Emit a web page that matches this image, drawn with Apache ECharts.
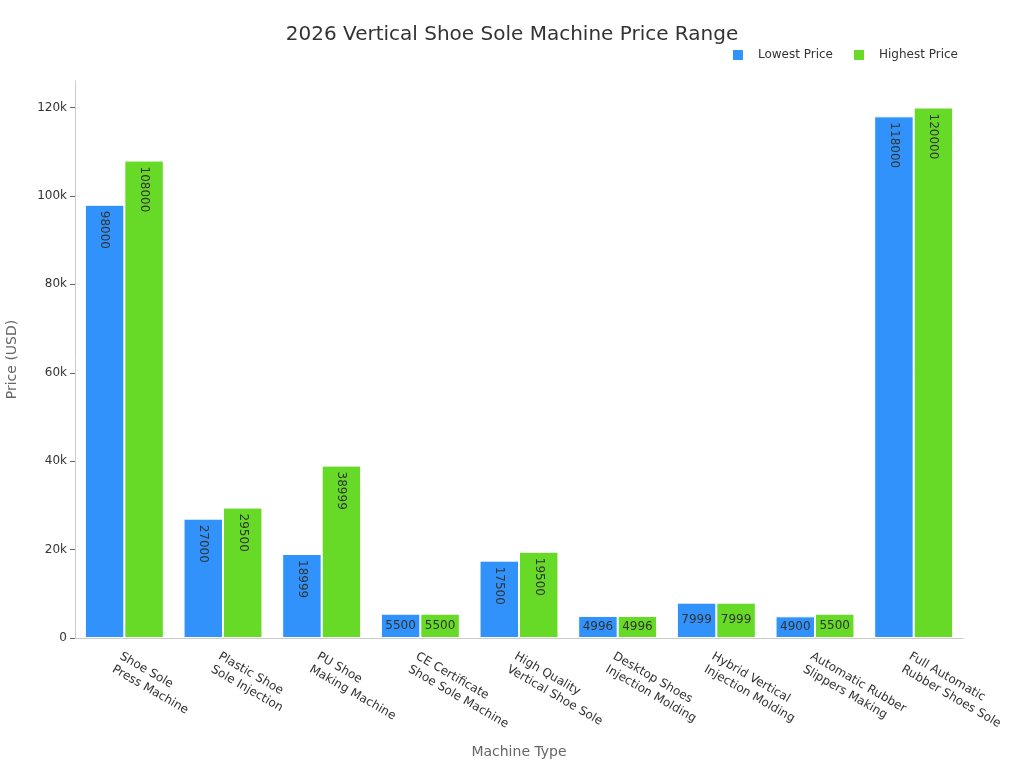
<!DOCTYPE html>
<html><head><meta charset="utf-8">
<script src="https://cdn.jsdelivr.net/npm/echarts@6/dist/echarts.min.js"></script>
<style>html,body{margin:0;padding:0;background:#fff}#c{width:1024px;height:768px}</style>
</head><body><div id="c"></div>
<script>
const categories = ["Shoe Sole\nPress Machine","Plastic Shoe\nSole Injection","PU Shoe\nMaking Machine","CE Certificate\nShoe Sole Machine","High Quality\nVertical Shoe Sole","Desktop Shoes\nInjection Molding","Hybrid Vertical\nInjection Molding","Automatic Rubber\nSlippers Making","Full Automatic\nRubber Shoes Sole"];
const lowestPrice = [98000, 27000, 18999, 5500, 17500, 4996, 7999, 4900, 118000];
const highestPrice = [108000, 29500, 38999, 5500, 19500, 4996, 7999, 5500, 120000];
const yTicks = [0, 20000, 40000, 60000, 80000, 100000, 120000];

function mk(vals){
  return vals.map(v => {
    if (v >= 10000) {
      return {value: v, label: {show: true, position: 'insideTop', rotate: -90, align: 'left', verticalAlign: 'middle', distance: 6}};
    }
    return {value: v, label: {show: true, position: 'inside', rotate: 0}};
  });
}
const font = 'DejaVu Sans';
const chart = echarts.init(document.getElementById('c'));
chart.setOption({
  animation: false,
  textStyle: {fontFamily: font},
  title: {text: '2026 Vertical Shoe Sole Machine Price Range', left: 'center', top: 20,
    textStyle: {fontFamily: font, fontSize: 20, fontWeight: 'normal', color: '#333'}},
  legend: {right: 61, top: 43, itemWidth: 12, itemHeight: 12, itemGap: 19, icon: 'rect',
    textStyle: {fontFamily: font, fontSize: 12, color: '#333', padding: [0, 0, 0, 9]}},
  grid: {left: 75, right: 61, top: 81, bottom: 130, containLabel: false, outerBoundsMode: 'none'},
  xAxis: {type: 'category', data: categories,
    name: 'Machine Type', nameLocation: 'middle', nameGap: 107,
    nameTextStyle: {fontFamily: font, fontSize: 14, color: '#666'},
    axisLine: {lineStyle: {color: '#ccc'}},
    axisTick: {alignWithLabel: true, lineStyle: {color: '#666'}},
    axisLabel: {rotate: -30, interval: 0, fontFamily: font, fontSize: 12, color: '#333', margin: 11, verticalAlign: 'top', align: 'left', lineHeight: 15}},
  yAxis: {type: 'value', min: 0, max: 126000, interval: 20000,
    name: 'Price (USD)', nameLocation: 'middle', nameGap: 56,
    nameTextStyle: {fontFamily: font, fontSize: 14, color: '#666'},
    axisLine: {show: true, lineStyle: {color: '#ccc'}},
    axisTick: {show: true, lineStyle: {color: '#666'}},
    splitLine: {show: false},
    axisLabel: {showMaxLabel: false, fontFamily: font, fontSize: 12, color: '#333',
      formatter: v => yTicks.includes(v) ? (v === 0 ? '0' : (v/1000) + 'k') : ''}},
  series: [
    {name: 'Lowest Price', type: 'bar', data: mk(lowestPrice), barGap: '0%', barCategoryGap: '20%',
      itemStyle: {color: '#3092FA', borderColor: '#fff', borderWidth: 1},
      label: {show: true, color: '#333', fontFamily: font, fontSize: 12}},
    {name: 'Highest Price', type: 'bar', data: mk(highestPrice),
      itemStyle: {color: '#66DA26', borderColor: '#fff', borderWidth: 1},
      label: {show: true, color: '#333', fontFamily: font, fontSize: 12}}
  ]
});
</script></body></html>
